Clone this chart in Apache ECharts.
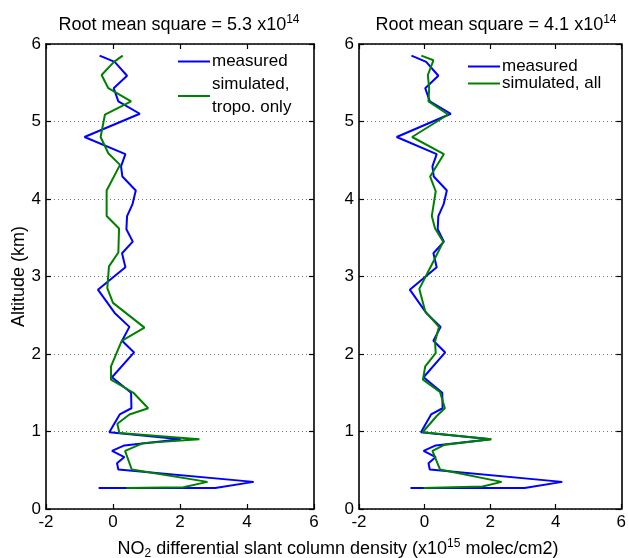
<!DOCTYPE html>
<html><head><meta charset="utf-8">
<script src="https://cdn.jsdelivr.net/npm/echarts@6/dist/echarts.min.js"></script>
<style>html,body{margin:0;padding:0;background:#fff}#c{width:629px;height:558px}</style>
</head><body><div id="c"></div><script>
// Measured NO2 dSCD (x1e15 molec/cm2) vs altitude (km) - same in both panels
const measuredAlt = [5.85,5.77,5.59,5.43,5.26,5.10,4.80,4.58,4.42,4.29,4.11,3.93,3.78,3.61,3.45,3.30,3.12,2.83,2.53,2.35,2.17,2.02,1.70,1.50,1.30,1.22,0.99,0.90,0.82,0.75,0.67,0.59,0.51,0.35,0.27,0.27];
const measuredX   = [-0.40,0.05,0.42,0.02,0.16,0.80,-0.85,0.37,0.24,0.28,0.68,0.58,0.42,0.40,0.59,0.27,0.37,-0.45,0.05,0.49,0.27,0.63,-0.03,0.54,0.55,0.20,-0.11,2.02,0.34,-0.03,0.34,0.12,0.16,4.20,3.05,-0.43];
// Simulated, troposphere only (left panel)
const tropoAlt = [5.85,5.77,5.60,5.43,5.26,5.09,4.80,4.59,4.44,4.11,3.78,3.62,3.31,3.13,2.85,2.66,2.34,2.17,1.84,1.67,1.50,1.30,1.22,1.10,0.98,0.90,0.85,0.75,0.51,0.35,0.28,0.27];
const tropoX   = [0.29,0.03,-0.34,-0.14,0.54,-0.24,-0.37,-0.14,0.21,-0.19,-0.19,0.18,0.16,-0.12,-0.17,0.00,0.94,0.26,-0.06,-0.06,0.61,1.05,0.49,0.13,0.19,2.58,0.90,0.36,0.56,2.82,2.10,0.40];
// Simulated, all (right panel)
const allAlt = [5.85,5.79,5.60,5.43,5.26,5.09,4.80,4.58,4.29,4.10,3.78,3.62,3.45,3.22,2.84,2.55,2.35,2.16,2.01,1.84,1.67,1.51,1.30,1.20,0.99,0.90,0.83,0.75,0.51,0.35,0.29,0.27];
const allX   = [-0.10,0.27,0.10,0.14,0.12,0.72,-0.38,0.59,0.17,0.34,0.22,0.32,0.57,0.30,-0.16,0.02,0.44,0.32,0.34,0.02,-0.05,0.47,0.62,0.37,-0.06,2.04,0.62,0.24,0.47,2.35,1.77,-0.03];
const xTicks = [-2,0,2,4,6];
const yTicks = [0,1,2,3,4,5,6];
const panelTitles = ['5.3','4.1'];
const legendNames = [['measured','simulated,\ntropo. only'],['measured','simulated, all']];

const FONT = 'Liberation Sans, Arial, sans-serif';
const pairs = (xs, ys) => xs.map((x,i)=>[x, ys[i]]);
const chart = echarts.init(document.getElementById('c'), null, {renderer:'canvas'});

const grids = [
  {left:46, top:44, width:268, height:465},
  {left:359, top:44, width:267, height:465}
];
const xAxes = [], yAxes = [];
[0,1].forEach(g=>{
  ['bottom','top'].forEach(pos=>{
    xAxes.push({type:'value', gridIndex:g, position:pos, min:xTicks[0], max:xTicks[xTicks.length-1], interval:2,
      axisLine:{show:true,onZero:false,lineStyle:{color:'#000',width:1.6}},
      axisTick:{show:true,inside:true,length:5,lineStyle:{color:'#000',width:1.2}},
      axisLabel:{show:pos==='bottom',color:'#000',fontSize:17,fontFamily:FONT,margin:5},
      splitLine:{show:false}});
  });
  ['left','right'].forEach(pos=>{
    yAxes.push({type:'value', gridIndex:g, position:pos, min:yTicks[0], max:yTicks[yTicks.length-1], interval:1,
      name: (g===0 && pos==='left') ? 'Altitude (km)' : '',
      nameLocation:'middle', nameGap:16, nameRotate:90,
      nameTextStyle:{color:'#000',fontSize:18,fontFamily:FONT},
      axisLine:{show:true,onZero:false,lineStyle:{color:'#000',width:1.6}},
      axisTick:{show:true,inside:true,length:5,lineStyle:{color:'#000',width:1.2}},
      axisLabel:{show:pos==='left',color:'#000',fontSize:17,fontFamily:FONT,margin:5},
      splitLine:{show:pos==='left',lineStyle:{color:'#777',type:[1,3],width:1}}});
  });
});

const mk = (name, data, color, g) => ({
  type:'line', name, data, xAxisIndex:g*2, yAxisIndex:g*2, showSymbol:false, symbol:'none',
  animation:false, color, lineStyle:{color, width:2}, itemStyle:{color}
});

const base = {fontFamily:FONT,color:'#000',fontWeight:'normal'};
const titleRich = {a:Object.assign({fontSize:18},base), s:Object.assign({fontSize:12,padding:[0,0,10,0]},base)};
chart.setOption({
  animation:false,
  backgroundColor:'#fff',
  title:[
    {text:'{a|Root mean square = '+panelTitles[0]+' x10}{s|14}', left:174, top:9, textAlign:'center', textStyle:{fontWeight:'normal',rich:titleRich}},
    {text:'{a|Root mean square = '+panelTitles[1]+' x10}{s|14}', left:491, top:9, textAlign:'center', textStyle:{fontWeight:'normal',rich:titleRich}},
    {text:'{a|NO}{b|2}{a| differential slant column density (x10}{s|15}{a| molec/cm2)}', left:333, top:533, textAlign:'center',
     textStyle:{fontWeight:'normal',rich:{a:Object.assign({fontSize:18},base), b:Object.assign({fontSize:12,padding:[9,0,0,0]},base), s:Object.assign({fontSize:12,padding:[0,0,10,0]},base)}}}
  ],
  grid:grids,
  xAxis:xAxes,
  yAxis:yAxes,
  legend:[
    {data:legendNames[0], orient:'vertical', left:178, top:50, padding:0, icon:'rect', itemWidth:32, itemHeight:2, itemGap:0,
     textStyle:{fontSize:17,fontFamily:FONT,color:'#000',lineHeight:23,padding:[0,0,0,-3]}, selectedMode:false},
    {data:legendNames[1], orient:'vertical', left:468, top:58, padding:0, icon:'rect', itemWidth:32, itemHeight:2, itemGap:0,
     textStyle:{fontSize:17,fontFamily:FONT,color:'#000',lineHeight:16,padding:[0,0,0,-3]}, selectedMode:false}
  ],
  series:[
    mk('measured', pairs(measuredX, measuredAlt), '#0000ff', 0),
    mk(legendNames[0][1], pairs(tropoX, tropoAlt), '#008000', 0),
    mk('measured', pairs(measuredX, measuredAlt), '#0000ff', 1),
    mk(legendNames[1][1], pairs(allX, allAlt), '#008000', 1)
  ]
});
</script></body></html>
